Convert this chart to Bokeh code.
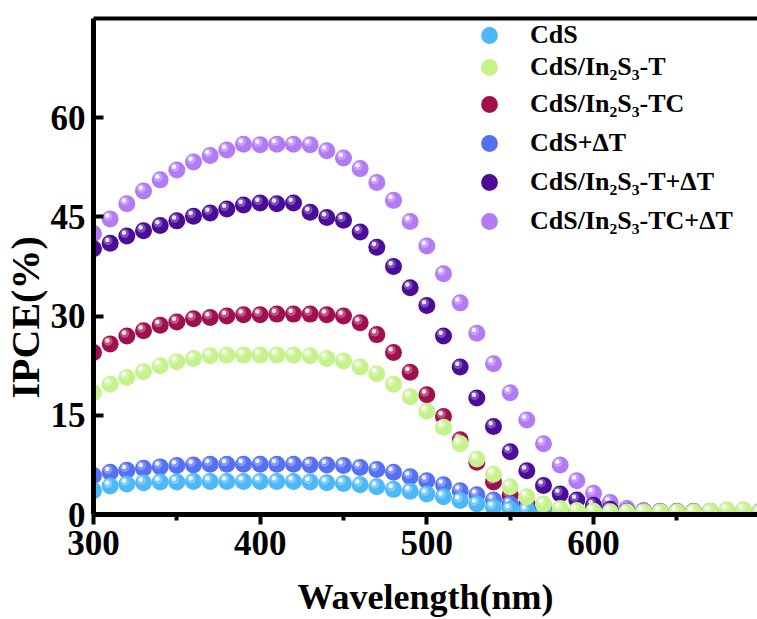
import numpy as np
from bokeh.plotting import figure
from bokeh.models import Range1d, FixedTicker, Legend, LegendItem, Title, LinearAxis
from bokeh.embed import file_html
from bokeh.resources import INLINE

wavelength = [300, 310, 320, 330, 340, 350, 360, 370, 380, 390,
              400, 410, 420, 430, 440, 450, 460, 470, 480, 490,
              500, 510, 520, 530, 540, 550, 560, 570, 580, 590,
              600, 610, 620, 630, 640, 650, 660, 670, 680, 690, 700]

cds = [3.6, 4.3, 4.6, 4.8, 4.9, 4.9, 5.0, 5.0, 5.0, 5.0,
       5.0, 5.0, 5.0, 4.9, 4.8, 4.7, 4.5, 4.2, 3.8, 3.5,
       3.1, 2.7, 2.1, 1.6, 1.1, 0.8, 0.6, 0.4, 0.3, 0.3,
       0.2, 0.2, 0.2, 0.2, 0.2, 0.2, 0.2, 0.2, 0.2, 0.2, 0.2]

cds_in2s3_t = [18.4, 19.7, 20.7, 21.6, 22.5, 23.1, 23.6, 24.0, 24.1, 24.1,
               24.1, 24.1, 24.1, 24.0, 23.6, 23.2, 22.3, 21.3, 19.7, 17.8,
               15.6, 13.2, 10.7, 8.4, 6.1, 4.2, 2.7, 1.6, 0.9, 0.6,
               0.5, 0.4, 0.4, 0.4, 0.4, 0.4, 0.4, 0.5, 0.7, 0.7, 0.4]

cds_in2s3_tc = [24.5, 25.8, 27.0, 27.8, 28.6, 29.1, 29.6, 29.8, 30.0, 30.2,
                30.2, 30.3, 30.3, 30.3, 30.2, 30.0, 29.0, 27.2, 24.5, 21.5,
                18.1, 14.8, 11.3, 7.9, 4.9, 2.9, 1.6, 0.9, 0.5, 0.4,
                0.3, 0.3, 0.3, 0.3, 0.3, 0.3, 0.3, 0.3, 0.3, 0.3, 0.3]

cds_dt = [5.9, 6.4, 6.7, 7.0, 7.2, 7.4, 7.5, 7.6, 7.6, 7.6,
          7.6, 7.6, 7.6, 7.5, 7.5, 7.4, 7.1, 6.8, 6.4, 5.7,
          5.1, 4.5, 3.6, 3.0, 2.2, 1.6, 1.0, 0.6, 0.4, 0.3,
          0.3, 0.3, 0.3, 0.3, 0.3, 0.3, 0.3, 0.3, 0.3, 0.3, 0.3]

cds_in2s3_t_dt = [40.2, 41.0, 42.1, 42.9, 43.7, 44.4, 45.1, 45.6, 46.2, 46.8,
                  47.1, 47.0, 47.1, 45.7, 44.9, 44.5, 42.7, 40.4, 37.5, 34.3,
                  31.6, 27.0, 22.3, 17.6, 13.3, 9.5, 6.6, 4.4, 3.1, 2.2,
                  1.4, 0.8, 0.5, 0.4, 0.4, 0.4, 0.4, 0.4, 0.5, 0.4, 0.3]

cds_in2s3_tc_dt = [42.5, 44.7, 47.0, 48.9, 50.6, 52.1, 53.3, 54.3, 55.1, 56.0,
                   55.9, 56.0, 56.0, 55.9, 55.0, 53.9, 52.3, 50.2, 47.5, 44.3,
                   40.6, 36.4, 32.0, 27.4, 22.8, 18.4, 14.3, 10.7, 7.5, 5.1,
                   3.2, 1.8, 0.9, 0.6, 0.5, 0.5, 0.5, 0.5, 0.5, 0.5, 0.5]

labels = ["CdS", "CdS/In\u2082S\u2083-T", "CdS/In\u2082S\u2083-TC",
          "CdS+\u0394T", "CdS/In\u2082S\u2083-T+\u0394T", "CdS/In\u2082S\u2083-TC+\u0394T"]
values = [cds, cds_in2s3_t, cds_in2s3_tc, cds_dt, cds_in2s3_t_dt, cds_in2s3_tc_dt]
colors = ["#4DB8F7", "#C6F28C", "#A1104E", "#5670F2", "#4A0C99", "#B27AF5"]

x_ticks = [300, 400, 500, 600]
x_minor = [350, 450, 550, 650]
y_ticks = [0, 15, 30, 45, 60]

FONT = "Liberation Serif"

FRAME_LEFT, FRAME_TOP, FRAME_BOTTOM = 93, 18, 514

p = figure(width=757, height=619, x_range=Range1d(300, 698.4), y_range=Range1d(0, 75),
           output_backend="svg", toolbar_location=None,
           min_border_left=FRAME_LEFT, min_border_right=0, min_border_top=FRAME_TOP,
           min_border_bottom=619 - FRAME_BOTTOM)
p.background_fill_color = "white"
p.border_fill_color = "white"
p.grid.visible = False
p.outline_line_color = None

xax = p.below[0]
yax = p.left[0]

# top frame line (plain axis line without ticks or labels)
top = LinearAxis(ticker=FixedTicker(ticks=[], minor_ticks=[]),
                 axis_line_color="black", axis_line_width=4,
                 major_tick_line_color=None, minor_tick_line_color=None,
                 major_label_text_font_size="0px", major_label_text_alpha=0.0)
p.add_layout(top, "above")

# axes
xax.ticker = FixedTicker(ticks=x_ticks, minor_ticks=x_minor)
yax.ticker = FixedTicker(ticks=y_ticks, minor_ticks=[])
for ax in (xax, yax):
    ax.axis_line_color = "black"
    ax.axis_line_width = 5
    ax.major_tick_line_color = "black"
    ax.major_tick_line_width = 4
    ax.minor_tick_line_color = "black"
    ax.minor_tick_line_width = 4
    ax.major_label_text_font = FONT
    ax.major_label_text_font_style = "bold"
    ax.major_label_text_font_size = "35px"
    ax.major_label_text_color = "black"

xax.major_tick_in = 0
xax.major_tick_out = 10
xax.minor_tick_in = 0
xax.minor_tick_out = 6
xax.major_label_standoff = 6
xax.axis_label = "Wavelength(nm)"
xax.axis_label_text_font = FONT
xax.axis_label_text_font_style = "bold"
xax.axis_label_text_font_size = "36px"
xax.axis_label_text_color = "black"
xax.axis_label_standoff = 19

yax.major_tick_in = 10
yax.major_tick_out = 0
yax.major_label_standoff = 8

# y title: a left-side Title anchored at its start and pushed up from the frame bottom
ytitle = Title(text="IPCE(%)", align="left", offset=FRAME_BOTTOM - 398,
               text_font=FONT, text_font_style="bold", text_font_size="40px",
               text_color="black", standoff=0)
p.add_layout(ytitle, "left")

x = np.array(wavelength, dtype=float)
dx = -1.3   # highlight offset (nm)
dy = 0.38   # highlight offset (%)

draw_order = [5, 4, 2, 3, 0, 1]
base_renderers = {}
for i in draw_order:
    y = np.array(values[i], dtype=float)
    r = p.scatter(x, y, size=17, fill_color=colors[i], line_color=colors[i],
                  line_alpha=0.0, marker="circle")
    p.scatter(x + dx, y + dy, size=9, fill_color="white", fill_alpha=0.28,
              line_alpha=0.0, marker="circle")
    p.scatter(x + dx * 1.3, y + dy * 1.3, size=4.5, fill_color="white", fill_alpha=0.85,
              line_alpha=0.0, marker="circle")
    base_renderers[i] = r

# one single-entry legend per row so each row sits where the reference puts it
row_centers = [35, 67, 104, 143, 182, 221]
GLYPH = 42
for i in range(6):
    lg = Legend(items=[LegendItem(label=labels[i], renderers=[base_renderers[i]])],
                location=(375, FRAME_BOTTOM - row_centers[i] - GLYPH // 2),
                orientation="vertical", glyph_width=GLYPH, glyph_height=GLYPH,
                spacing=0, padding=0, margin=0, label_standoff=20,
                label_text_font=FONT, label_text_font_style="bold",
                label_text_font_size="26px", label_text_color="black",
                border_line_alpha=0.0, background_fill_alpha=0.0)
    p.add_layout(lg)

open("out.html", "w").write(file_html(p, INLINE))
